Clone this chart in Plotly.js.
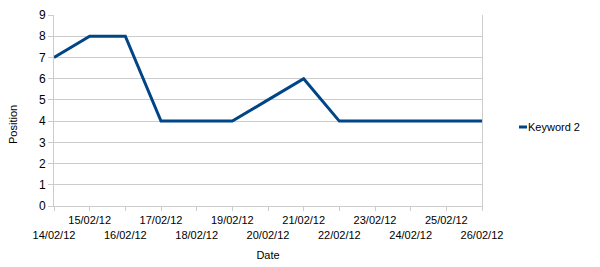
<!DOCTYPE html>
<html><head><meta charset="utf-8">
<script src="https://cdn.plot.ly/plotly-3.0.1.min.js"></script>
<style>html,body{margin:0;padding:0;background:#fff}#c{width:600px;height:267px}</style>
</head><body><div id="c"></div>
<script>
var dates = ["14/02/12","15/02/12","16/02/12","17/02/12","18/02/12","19/02/12","20/02/12","21/02/12","22/02/12","23/02/12","24/02/12","25/02/12","26/02/12"];
var positions = [7,8,8,4,4,4,5,6,4,4,4,4,4];
var seriesName = "Keyword 2";
var xTitle = "Date";
var yTitle = "Position";
var tickText = dates.map(function(d,i){ return i % 2 === 0 ? "<br>" + d : d; });
var lineColor = "#004586";
var gridColor = "#cccccc";

var trace = {
  x: dates, y: positions, type: "scatter", mode: "lines", name: seriesName,
  line: {color: lineColor, width: 3}, showlegend: false
};
var layout = {
  width: 600, height: 267,
  margin: {l: 54, r: 118, t: 15, b: 61, autoexpand: false},
  paper_bgcolor: "#fff", plot_bgcolor: "#fff",
  font: {family: "Liberation Sans, Arial, sans-serif", size: 11, color: "#000"},
  showlegend: false,
  xaxis: {
    type: "category", range: [0, 12],
    tickvals: dates, ticktext: tickText,
    showgrid: false, showline: true, linecolor: gridColor, linewidth: 1,
    ticks: "outside", ticklen: 4, tickcolor: gridColor, tickangle: 0,
    tickfont: {size: 11},
    title: {text: xTitle, font: {size: 11}, standoff: 11},
    zeroline: false
  },
  yaxis: {
    range: [0, 9], dtick: 1, tick0: 0,
    showgrid: true, gridcolor: gridColor, gridwidth: 1,
    showline: true, linecolor: gridColor, linewidth: 1, mirror: true,
    ticks: "outside", ticklen: 5, tickcolor: gridColor,
    tickfont: {size: 12},
    zeroline: false
  },
  annotations: [
    {text: yTitle, textangle: -90, xref: "paper", yref: "paper",
     x: (13 - 54) / 428, y: (206 - 125) / 191, xanchor: "center", yanchor: "middle",
     showarrow: false, font: {size: 11}},
    {text: seriesName, xref: "paper", yref: "paper",
     x: (528 - 54) / 428, y: (206 - 127) / 191, xanchor: "left", yanchor: "middle",
     showarrow: false, font: {size: 11}, xshift: -2}
  ],
  shapes: [
    {type: "line", xref: "paper", yref: "paper",
     x0: (519 - 54) / 428, x1: (527 - 54) / 428,
     y0: (206 - 127) / 191, y1: (206 - 127) / 191,
     line: {color: lineColor, width: 3}}
  ]
};
Plotly.newPlot("c", [trace], layout, {displayModeBar: false, staticPlot: true});
</script></body></html>
